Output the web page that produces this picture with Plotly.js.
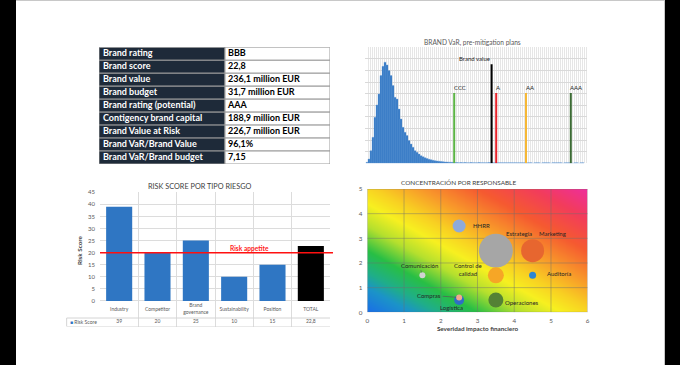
<!DOCTYPE html>
<html><head><meta charset="utf-8">
<script src="https://cdn.plot.ly/plotly-3.0.1.min.js"></script>
<style>html,body{margin:0;padding:0;background:#fff;overflow:hidden}#chart{width:680px;height:365px}</style>
</head><body><div id="chart"></div>
<script>
// ---------------- DATA ----------------
const infoLabels = ['Brand rating','Brand score','Brand value','Brand budget','Brand rating (potential)','Contigency brand capital','Brand Value at Risk','Brand VaR/Brand Value','Brand VaR/Brand budget'];
const infoValues = ['BBB','22,8','236,1 million EUR','31,7 million EUR','AAA','188,9 million EUR','226,7 million EUR','96,1%','7,15'];

const histCounts = [
  0.9,3.7,10.9,22.4,39.7,50.3,59.8,75.6,83.6,87.1,
  84.8,79.9,75.6,67.0,56.9,55.4,46.8,38.2,31.0,26.7,
  23.9,19.6,16.6,13.8,10.9,9.5,8.0,6.5,5.6,4.8,
  4.1,3.5,3.0,2.6,2.3,2.0,1.8,1.6,1.4,1.2,
  1.1,1.0,0.9,0.8,
  0.7,0.6,0.5,0.6,0.5,0.7,0.5,0.4,0.6,0.5,
  0.5,0.4,0.6,0.5,0.5,0.4,0.5,0.6,0.4,0.5,
  0.5,0.4,0.5,0.5,0.4,0.5,0.4,0.5,0.5,0.4,
  0.5,0.4,0.4,0.5,0.4,0.5,0.4,0.4,0.5,0,
  0.4,0.5,0.4,0,0.4,0.5,0.4,0.4,0,0.5,
  0.4,0.4,0.5,0.4,0,0.4,0.5,0.4,0.4,0,
  0.4,0.5,0,0.4,0.4
];
const ratingNames = ['CCC','A','AA','AAA'];
const ratingLoss = [44.6, 65.6, 80.5, 102.9];
const brandValueLabel = 'Brand value';
const brandValueLoss = 63.3;

const riskCategories = ['Industry','Competitor','Brand governance','Sustainability','Position','TOTAL'];
const riskScores = [39, 20, 25, 10, 15, 22.8];
const riskAppetite = 20;
const riskTicks = [0,5,10,15,20,25,30,35,40,45];

const owners = ['HHRR','Estrategia','Marketing','Auditoría','Control de calidad','Comunicación','Logística','Compras','Operaciones'];
const severity = [2.5, 3.5, 4.5, 4.5, 3.5, 1.5, 2.5, 2.5, 3.5];
const probability = [3.5, 2.5, 2.5, 1.5, 1.5, 1.5, 0.5, 0.6, 0.5];
const concentration = [13, 34, 23, 7, 16, 6, 10, 6, 15];
const severityTicks = [0,1,2,3,4,5,6];
const probabilityTicks = [0,1,2,3,4,5];
const gradientCorners = [[0,1],[1,2]];

// ---------------- STYLE ----------------
const W = 680, H = 365;
const FONT = 'Lato, "Liberation Sans", Arial, sans-serif';
const NAVY = '#1e2a39';
const px = v => v / W, py = v => 1 - v / H;
const COL1 = 126, COL2 = 105;   // KPI table column widths (px)

const ratingColors = {CCC:'#5cb545', A:'#e8232b', AA:'#f6b836', AAA:'#3c6b34'};
const ownerColors = {'HHRR':'#8eaadb','Estrategia':'#a6a6a6','Marketing':'#e7662f','Auditoría':'#2e86d2',
  'Control de calidad':'#f6a626','Comunicación':'#d2d2d2','Logística':'#2f6ec6','Compras':'#f4a98c','Operaciones':'#548235'};
const ownerLabel = {
  'HHRR':{dx:12, dy:0, anchor:'left'},
  'Estrategia':{dx:8, dy:-17.5, anchor:'left'},
  'Marketing':{dx:4, dy:-17.5, anchor:'left'},
  'Auditoría':{dx:12.5, dy:-2, anchor:'left'},
  'Control de calidad':{dx:-27.5, dy:-5.5, anchor:'center', wrap:true},
  'Comunicación':{dx:-3, dy:-10, anchor:'center', arrow:true},
  'Logística':{dx:-7.3, dy:7.7, anchor:'center'},
  'Compras':{dx:-30, dy:-2.3, anchor:'center', arrow:true},
  'Operaciones':{dx:26, dy:2.7, anchor:'center'}
};

const traces = [];

// ---- Panel 1 : KPI table (rows on a category axis) ----
traces.push({type:'bar', orientation:'h', y:infoLabels, x:infoLabels.map(()=>COL1), base:0, width:1,
  marker:{color:NAVY, line:{color:'#9a9a9a', width:1}}, xaxis:'x4', yaxis:'y4', hoverinfo:'skip', showlegend:false});
traces.push({type:'bar', orientation:'h', y:infoLabels, x:infoValues.map(()=>COL2), base:COL1, width:1,
  marker:{color:'#ffffff', line:{color:'#9a9a9a', width:1}}, xaxis:'x4', yaxis:'y4', hoverinfo:'skip', showlegend:false});
traces.push({type:'scatter', mode:'text', y:infoLabels, x:infoLabels.map(()=>4), text:infoLabels,
  textposition:'middle right', textfont:{family:FONT, size:9, color:'#ffffff', weight:'bold'},
  xaxis:'x4', yaxis:'y4', hoverinfo:'skip', showlegend:false, cliponaxis:false});
traces.push({type:'scatter', mode:'text', y:infoLabels, x:infoLabels.map(()=>COL1 + 3), text:infoValues,
  textposition:'middle right', textfont:{family:FONT, size:9, color:'#000000', weight:'bold'},
  xaxis:'x4', yaxis:'y4', hoverinfo:'skip', showlegend:false, cliponaxis:false});

// ---- Panel 2 : histogram ----
traces.push({
  type:'bar', x:histCounts.map((c,i)=>i+1), y:histCounts, width:1,
  marker:{color:'#2f74c2', line:{color:'#76a7dc', width:0.4}},
  xaxis:'x', yaxis:'y', hoverinfo:'skip', showlegend:false
});
const ratingTop = 60.6, brandTop = 85.3;
ratingNames.forEach((n,i)=>{
  traces.push({type:'scatter', mode:'lines', x:[ratingLoss[i], ratingLoss[i]], y:[0, ratingTop],
    line:{color:ratingColors[n], width:2}, xaxis:'x', yaxis:'y', hoverinfo:'skip', showlegend:false});
});
traces.push({type:'scatter', mode:'lines', x:[brandValueLoss, brandValueLoss], y:[0, brandTop],
  line:{color:'#000000', width:2}, xaxis:'x', yaxis:'y', hoverinfo:'skip', showlegend:false});

// ---- Panel 3 : risk score bars + data table ----
const catRowY = -3.52, valRowY = -8.8, rowSplitY = -7.04, tableBottomY = -10.56;
traces.push({
  type:'bar', x:riskCategories, y:riskScores, width:0.68,
  marker:{color:riskCategories.map(c=> c==='TOTAL' ? '#000000' : '#2f76c3')},
  xaxis:'x2', yaxis:'y2', hoverinfo:'skip', showlegend:false
});
traces.push({
  type:'scatter', mode:'text', x:riskCategories, y:riskCategories.map(()=>catRowY),
  text:riskCategories.map(c=>c.replace(' ','<br>')), textfont:{family:FONT, size:5, color:'#595959'},
  xaxis:'x2', yaxis:'y2', hoverinfo:'skip', showlegend:false
});
traces.push({
  type:'scatter', mode:'text', x:riskCategories, y:riskCategories.map(()=>valRowY),
  text:riskScores.map(v=>String(v).replace('.',',')), textfont:{family:FONT, size:5, color:'#595959'},
  xaxis:'x2', yaxis:'y2', hoverinfo:'skip', showlegend:false
});

// ---- Panel 4 : bubble chart ----
traces.push({
  type:'heatmap', x:[severityTicks[0], severityTicks[severityTicks.length-1]],
  y:[probabilityTicks[0], probabilityTicks[probabilityTicks.length-1]],
  z:gradientCorners, zsmooth:'best', zmin:0, zmax:2, showscale:false, hoverinfo:'skip',
  colorscale:[[0,'#1a6ee8'],[0.1,'#1b94c8'],[0.16,'#1fae8a'],[0.25,'#28bf45'],[0.35,'#b5e02e'],[0.44,'#f7f020'],
              [0.52,'#f8cf22'],[0.62,'#f89a2a'],[0.75,'#f55a30'],[0.88,'#f23c5c'],[1,'#ee2e9c']],
  xaxis:'x3', yaxis:'y3'
});
const gx = [], gy = [];
severityTicks.forEach(t=>{ gx.push(t,t,null); gy.push(probabilityTicks[0], probabilityTicks[probabilityTicks.length-1], null); });
probabilityTicks.forEach(t=>{ gx.push(severityTicks[0], severityTicks[severityTicks.length-1], null); gy.push(t,t,null); });
traces.push({type:'scatter', mode:'lines', x:gx, y:gy, line:{color:'rgba(110,110,110,0.55)', width:0.8},
  xaxis:'x3', yaxis:'y3', hoverinfo:'skip', showlegend:false, connectgaps:false});
traces.push({
  type:'scatter', mode:'markers', x:severity, y:probability, text:owners,
  marker:{size:concentration, sizemode:'diameter', color:owners.map(o=>ownerColors[o]), opacity:1, line:{width:0}},
  xaxis:'x3', yaxis:'y3', hoverinfo:'text', showlegend:false, cliponaxis:false
});

// ---------------- ANNOTATIONS ----------------
const ann = [];
ann.push({xref:'paper', yref:'paper', x:px(472), y:py(43), xanchor:'center', yanchor:'middle', text:'BRAND VaR, pre-mitigation plans', showarrow:false,
  font:{family:FONT, size:6.6, color:'#595959'}});
ann.push({xref:'paper', yref:'paper', x:px(200), y:py(186.5), xanchor:'center', yanchor:'middle', text:'RISK SCORE POR TIPO RIESGO', showarrow:false,
  font:{family:FONT, size:7.3, color:'#404040'}});
ann.push({xref:'paper', yref:'paper', x:px(458), y:py(182.3), xanchor:'center', yanchor:'middle', text:'CONCENTRACIÓN POR RESPONSABLE', showarrow:false,
  font:{family:FONT, size:6.4, color:'#404040'}});
ratingNames.forEach((n,i)=>ann.push({xref:'x', yref:'y', x:ratingLoss[i], y:ratingTop, text:n, showarrow:false,
  xanchor:'left', xshift:-2.5, yanchor:'middle', yshift:5.5, font:{family:FONT, size:6, color:'#262626'}}));
ann.push({xref:'x', yref:'y', x:brandValueLoss, y:brandTop, text:brandValueLabel, showarrow:false,
  xanchor:'right', xshift:0.5, yanchor:'middle', yshift:5.5, font:{family:FONT, size:6, color:'#262626'}});
ann.push({xref:'x2', yref:'y2', x:3.39, y:riskAppetite + 2.1, xanchor:'center', yanchor:'middle', text:'Risk appetite', showarrow:false,
  font:{family:FONT, size:6.6, color:'#ff1a1a', weight:'bold'}});
ann.push({xref:'paper', yref:'paper', x:px(79), y:py(250), xanchor:'center', yanchor:'middle', text:'Risk Score', textangle:-90, showarrow:false,
  font:{family:FONT, size:6.3, color:'#404040', weight:'bold'}});
ann.push({xref:'x2 domain', yref:'y2', x:-0.14, y:valRowY, xanchor:'left', yanchor:'middle', showarrow:false,
  text:'<span style="color:#2f76c3">■</span> Risk Score', font:{family:FONT, size:5, color:'#595959'}});
owners.forEach((o,i)=>{
  const s = ownerLabel[o];
  const txt = s.wrap ? o.replace('de ', 'de<br>') : o;
  if (s.arrow) {
    ann.push({xref:'x3', yref:'y3', x:severity[i], y:probability[i], text:txt, showarrow:true,
      ax:s.dx, ay:s.dy, arrowhead:0, arrowwidth:0.7, arrowcolor:'#595959', standoff:concentration[i]/2,
      font:{family:FONT, size:6, color:'#262626'}});
  } else {
    ann.push({xref:'x3', yref:'y3', x:severity[i], y:probability[i], text:txt, showarrow:false,
      xanchor:s.anchor, xshift:s.dx, yshift:-s.dy, yanchor:'middle',
      font:{family:FONT, size:6, color:'#262626'}});
  }
});

// ---------------- SHAPES ----------------
const shapes = [];
shapes.push({type:'line', xref:'x2 domain', yref:'y2', x0:0, x1:1.013, y0:riskAppetite, y1:riskAppetite,
  line:{color:'#ff1010', width:1.5}, layer:'above'});
shapes.push({type:'line', xref:'x2 domain', yref:'y2', x0:-0.145, x1:1, y0:rowSplitY, y1:rowSplitY, line:{color:'#d4d4d4', width:1}});
shapes.push({type:'line', xref:'x2 domain', yref:'y2', x0:-0.145, x1:1, y0:tableBottomY, y1:tableBottomY, line:{color:'#d4d4d4', width:1}});
shapes.push({type:'line', xref:'x2 domain', yref:'y2', x0:-0.145, x1:-0.145, y0:rowSplitY, y1:tableBottomY, line:{color:'#d4d4d4', width:1}});
shapes.push({type:'line', xref:'paper', yref:'paper', x0:px(16), x1:px(665), y0:py(0.5), y1:py(0.5), line:{color:'#c8c8c8', width:1}, layer:'above'});
shapes.push({type:'line', xref:'paper', yref:'paper', x0:px(664.5), x1:px(664.5), y0:0, y1:1, line:{color:'#c8c8c8', width:1}, layer:'above'});
shapes.push({type:'rect', xref:'paper', yref:'paper', x0:0, x1:px(16), y0:0, y1:1, fillcolor:'#000', line:{width:0}, layer:'above'});
shapes.push({type:'rect', xref:'paper', yref:'paper', x0:px(665), x1:1, y0:0, y1:1, fillcolor:'#000', line:{width:0}, layer:'above'});

// ---------------- LAYOUT ----------------
const layout = {
  width:W, height:H, margin:{l:0,r:0,t:0,b:0}, paper_bgcolor:'#ffffff', plot_bgcolor:'#ffffff',
  showlegend:false, font:{family:FONT}, barmode:'overlay',
  xaxis:{domain:[px(365), px(587)], range:[0,111], showgrid:true, gridcolor:'#e6e6e6', tick0:0.5, dtick:1,
    showticklabels:false, ticks:'', zeroline:false},
  yaxis:{domain:[py(163.3), py(47.3)], range:[0,100], dtick:10, showgrid:true, gridcolor:'#d9d9d9',
    showticklabels:false, ticks:'', zeroline:false},
  xaxis2:{domain:[px(100), px(330)], type:'category', tickson:'boundaries', showgrid:true, gridcolor:'#dcdcdc',
    showticklabels:false, ticks:'', zeroline:false, anchor:'y2'},
  yaxis2:{domain:[py(326.5), py(192.3)], range:[-10.56, 45], tickvals:riskTicks, showgrid:true, gridcolor:'#dcdcdc',
    ticks:'', tickfont:{family:FONT, size:6, color:'#595959'}, ticklabelstandoff:4, zeroline:false, anchor:'x2'},
  xaxis3:{domain:[px(367.3), px(587.7)], range:[0,6], tickvals:severityTicks, showgrid:false, ticks:'', zeroline:false,
    tickfont:{family:FONT, size:6.3, color:'#595959'}, anchor:'y3', ticklabelstandoff:3,
    title:{text:'Severidad impacto financiero', font:{family:FONT, size:6.3, color:'#404040', weight:'bold'}, standoff:3}},
  yaxis3:{domain:[py(312.3), py(189)], range:[0,5], tickvals:probabilityTicks, showgrid:false, ticks:'', zeroline:false,
    tickfont:{family:FONT, size:6.3, color:'#595959'}, anchor:'x3', ticklabelstandoff:4},
  xaxis4:{domain:[px(99), px(99 + COL1 + COL2)], range:[0, COL1 + COL2], showgrid:false, showticklabels:false,
    ticks:'', zeroline:false, anchor:'y4'},
  yaxis4:{domain:[py(164), py(47.3)], type:'category', range:[infoLabels.length - 0.5, -0.5], showgrid:false,
    showticklabels:false, ticks:'', zeroline:false, anchor:'x4'},
  annotations:ann, shapes:shapes
};

Plotly.newPlot('chart', traces, layout, {staticPlot:true, displayModeBar:false});
</script>
</body></html>
